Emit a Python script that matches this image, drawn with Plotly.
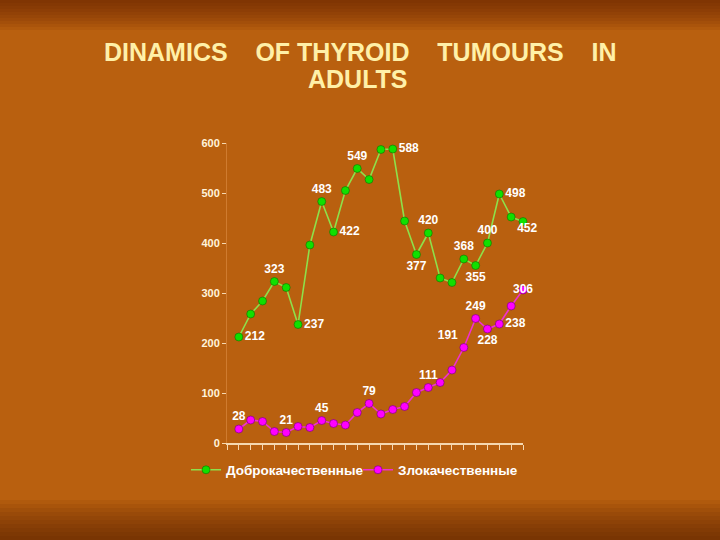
import plotly.graph_objects as go

years = list(range(1, 26))
benign = [212, 258, 284, 323, 311, 237, 396, 483, 422, 505, 549, 527, 587, 588,
          444, 377, 420, 330, 321, 368, 355, 400, 498, 452, 443]
malignant = [28, 46, 43, 23, 21, 33, 31, 45, 39, 36, 61, 79, 58, 67, 73,
             101, 111, 121, 146, 191, 249, 228, 238, 274, 306]

benign_text = ["212", "", "", "323", "", "237", "", "483", "422", "", "549", "", "", "588",
               "", "377", "420", "", "", "368", "355", "400", "498", "452", ""]
benign_pos = ["middle right", "top center", "top center", "top center", "top center",
              "middle right", "top center", "top center", "middle right", "top center",
              "top center", "top center", "top center", "middle right", "top center",
              "bottom center", "top center", "top center", "top center", "top center",
              "bottom center", "top center", "middle right", "bottom right", "top center"]
mal_text = ["28", "", "", "", "21", "", "", "45", "", "", "", "79", "", "", "", "",
            "111", "", "", "191", "249", "228", "238", "", "306"]
mal_pos = ["top center"] * 25
mal_pos[19] = "top left"
mal_pos[21] = "bottom center"
mal_pos[22] = "middle right"
mal_pos[24] = "middle center"

title_line1 = "DINAMICS\u00a0\u00a0\u00a0\u00a0OF THYROID\u00a0\u00a0\u00a0\u00a0TUMOURS\u00a0\u00a0\u00a0\u00a0IN"
title_line2 = "ADULTS"

LABEL_FONT = dict(color="#ffffff", size=12, family="Liberation Sans", weight="bold")
TITLE_FONT = dict(size=25, color="#fff0a8", family="Liberation Sans", weight="bold")

PLOT_TOP, PLOT_H, PLOT_BOTTOM, PLOT_L, PLOT_W = 143, 300, 97, 227, 296


def py(px):
    return (PLOT_TOP + PLOT_H - px) / PLOT_H


def pxx(px):
    return (px - PLOT_L) / PLOT_W


fig = go.Figure()
fig.add_trace(go.Scatter(
    x=years, y=benign, name="Доброкачественные", mode="lines+markers+text",
    line=dict(color="#8ee04a", width=1.6),
    marker=dict(color="#10e000", size=8, line=dict(color="#1a6a00", width=0.6)),
    text=benign_text, textposition=benign_pos, textfont=LABEL_FONT,
    cliponaxis=False, legend="legend"))
fig.add_trace(go.Scatter(
    x=years, y=malignant, name="Злокачественные", mode="lines+markers+text",
    line=dict(color="#f030d0", width=1.6),
    marker=dict(color="#ff00ff", size=8, line=dict(color="#700070", width=0.6)),
    text=mal_text, textposition=mal_pos, textfont=LABEL_FONT,
    cliponaxis=False, legend="legend2"))

shapes = []
# darker bands at top and bottom to suggest the gradient background
for i in range(10):
    top_px = 3 * i + 3
    shapes.append(dict(type="rect", xref="paper", yref="paper", layer="below",
                       x0=-1, x1=2, y0=py(top_px), y1=2.0,
                       fillcolor="rgba(90,30,0,0.08)", line=dict(width=0)))
for i in range(10):
    bot_px = 540 - (4 * i + 4)
    shapes.append(dict(type="rect", xref="paper", yref="paper", layer="below",
                       x0=-1, x1=2, y0=-1.0, y1=py(bot_px),
                       fillcolor="rgba(80,25,0,0.08)", line=dict(width=0)))

annotations = [
    dict(text=title_line1, xref="paper", yref="paper", x=pxx(360), y=py(52),
         xanchor="center", yanchor="middle", showarrow=False, font=TITLE_FONT),
    dict(text=title_line2, xref="paper", yref="paper", x=pxx(358), y=py(79),
         xanchor="center", yanchor="middle", showarrow=False, font=TITLE_FONT),
]

LEGEND_FONT = dict(size=13.5, color="#ffffff", weight="bold")
fig.update_layout(
    width=720, height=540,
    paper_bgcolor="#b9600f", plot_bgcolor="rgba(0,0,0,0)",
    margin=dict(l=PLOT_L, r=720 - PLOT_L - PLOT_W, t=PLOT_TOP, b=PLOT_BOTTOM,
                autoexpand=False),
    font=dict(family="Liberation Sans", color="#fff4dc"),
    xaxis=dict(range=[0, 25], tickmode="linear", tick0=1, dtick=1, showticklabels=False,
               ticks="outside", ticklen=5, tickcolor="#f5d8b0", showgrid=False,
               showline=True, linecolor="#f5d8b0", linewidth=1.5, zeroline=False),
    yaxis=dict(range=[0, 600], tickmode="linear", tick0=0, dtick=100,
               ticks="outside", ticklen=4, tickcolor="#f5d8b0", showgrid=False,
               showline=True, linecolor="rgba(230,150,80,0.5)", linewidth=1, zeroline=False,
               tickfont=dict(size=11, color="#fff4dc", weight="bold")),
    legend=dict(orientation="h", x=pxx(186), xanchor="left", y=py(470), yanchor="middle",
                font=LEGEND_FONT, bgcolor="rgba(0,0,0,0)", itemwidth=30),
    legend2=dict(orientation="h", x=pxx(358), xanchor="left", y=py(470), yanchor="middle",
                 font=LEGEND_FONT, bgcolor="rgba(0,0,0,0)", itemwidth=30),
    showlegend=True,
    shapes=shapes,
    annotations=annotations,
)

fig.write_html("out.html", config={"displayModeBar": False},
               post_script="document.body.style.margin='0';")
